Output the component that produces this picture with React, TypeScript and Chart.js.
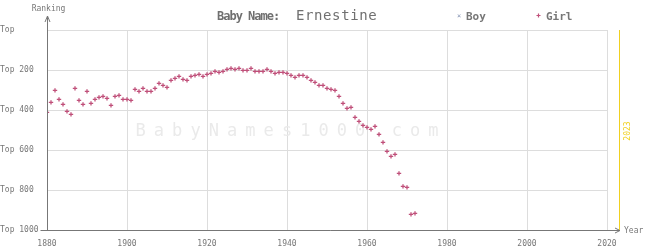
import React, { useEffect, useRef } from "react";
import { Chart, registerables } from "chart.js";

Chart.register(...registerables);

const years: number[] = [];
for (let y = 1880; y <= 1972; y++) years.push(y);

const girlRanks: number[] = [
  412, 362, 302, 347, 372, 407, 422, 292, 352, 372,
  307, 367, 347, 337, 332, 342, 377, 332, 327, 347,
  347, 352, 297, 307, 292, 307, 307, 292, 267, 277,
  287, 252, 242, 232, 247, 252, 232, 227, 222, 232,
  222, 217, 207, 212, 207, 197, 192, 197, 192, 202,
  202, 192, 207, 207, 207, 197, 207, 217, 212, 212,
  217, 227, 237, 227, 227, 237, 252, 262, 277, 277,
  292, 297, 302, 332, 367, 392, 387, 437, 457, 477,
  487, 497, 482, 522, 562, 607, 632, 622, 717, 782,
  787, 922, 917,
];

const boyRanks: number[] = [];

const xTicks: number[] = [1880, 1900, 1920, 1940, 1960, 1980, 2000, 2020];
const yTicks: number[] = [0, 200, 400, 600, 800, 1000];
const currentYear = 2023;
const nameTitle = "Ernestine";

const MONO = "'DejaVu Sans Mono', 'Liberation Mono', monospace";
const PINK = "#c0507a";
const BOYC = "#8090b0";
const AXIS = "#777777";
const GRID = "#dddddd";
const TEXT = "#777777";

const extras = {
  id: "extras",
  beforeDatasetsDraw(chart: any) {
    const ctx = chart.ctx;
    const ys = chart.scales.y;
    ctx.save();
    ctx.fillStyle = "#eaeaea";
    ctx.font = `17px ${MONO}`;
    ctx.textAlign = "center";
    ctx.textBaseline = "middle";
    const wm = "BabyNames1000.com";
    const step = 18.3;
    const cx = 287;
    const cy = ys.getPixelForValue(510);
    for (let i = 0; i < wm.length; i++) {
      ctx.fillText(wm[i], cx + (i - (wm.length - 1) / 2) * step, cy);
    }
    ctx.restore();
  },
  afterDraw(chart: any) {
    const ctx = chart.ctx;
    const xs = chart.scales.x;
    const area = chart.chartArea;
    ctx.save();
    const x0 = Math.round(area.left) + 0.5;
    const yb = Math.round(area.bottom) + 0.5;
    ctx.strokeStyle = AXIS;
    ctx.lineWidth = 1;
    ctx.beginPath();
    ctx.moveTo(x0, yb);
    ctx.lineTo(x0, 16);
    ctx.stroke();
    ctx.beginPath();
    ctx.moveTo(x0 - 2.5, 22);
    ctx.lineTo(x0, 16);
    ctx.lineTo(x0 + 2.5, 22);
    ctx.stroke();
    const xEnd = 620;
    ctx.beginPath();
    ctx.moveTo(x0 - 7, yb);
    ctx.lineTo(xEnd, yb);
    ctx.stroke();
    ctx.beginPath();
    ctx.moveTo(xEnd - 5, yb - 2.5);
    ctx.lineTo(xEnd, yb);
    ctx.lineTo(xEnd - 5, yb + 2.5);
    ctx.stroke();
    ctx.fillStyle = TEXT;
    ctx.font = `8px ${MONO}`;
    ctx.textBaseline = "middle";
    ctx.textAlign = "center";
    ctx.fillText("Ranking", x0 + 1, 9);
    ctx.textAlign = "left";
    ctx.fillText("Year", 624, yb);
    const xc = Math.round(xs.getPixelForValue(currentYear)) + 0.5;
    ctx.strokeStyle = "#f0d020";
    ctx.beginPath();
    ctx.moveTo(xc, area.top);
    ctx.lineTo(xc, yb - 0.5);
    ctx.stroke();
    ctx.save();
    ctx.translate(xc + 8, (area.top + area.bottom) / 2 + 1);
    ctx.rotate(-Math.PI / 2);
    ctx.fillStyle = "#f0d020";
    ctx.font = `8px ${MONO}`;
    ctx.textAlign = "center";
    ctx.textBaseline = "middle";
    ctx.fillText(String(currentYear), 0, 0);
    ctx.restore();
    // title
    ctx.fillStyle = "#707070";
    ctx.textBaseline = "middle";
    ctx.textAlign = "left";
    ctx.font = `bold 12px ${MONO}`;
    (ctx as any).letterSpacing = "-1px";
    ctx.fillText("Baby Name:", 217, 17);
    ctx.font = `14px ${MONO}`;
    (ctx as any).letterSpacing = "0.6px";
    ctx.fillText(nameTitle, 296, 16.5);
    (ctx as any).letterSpacing = "0px";
    // legend
    ctx.fillStyle = BOYC;
    ctx.font = `7px ${MONO}`;
    ctx.textAlign = "center";
    ctx.fillText("×", 459, 16);
    ctx.fillStyle = TEXT;
    ctx.font = `bold 11px ${MONO}`;
    ctx.textAlign = "left";
    ctx.fillText("Boy", 466, 17);
    ctx.strokeStyle = PINK;
    ctx.lineWidth = 1.2;
    ctx.beginPath();
    ctx.moveTo(536.5, 15.5);
    ctx.lineTo(540.5, 15.5);
    ctx.moveTo(538.5, 13.5);
    ctx.lineTo(538.5, 17.5);
    ctx.stroke();
    ctx.fillText("Girl", 546, 17);
    ctx.restore();
  },
};

export default function App() {
  const ref = useRef<HTMLCanvasElement>(null);
  useEffect(() => {
    document.body.style.margin = "0";
    const canvas = ref.current!;
    const chart = new Chart(canvas, {
      type: "scatter",
      data: {
        datasets: [
          {
            label: "Boy",
            data: boyRanks.map((r, i) => ({ x: years[i], y: r })),
            pointStyle: "crossRot",
            borderColor: BOYC,
            backgroundColor: BOYC,
            pointRadius: 2,
            borderWidth: 1,
          },
          {
            label: "Girl",
            data: girlRanks.map((r, i) => ({ x: years[i], y: r })),
            pointStyle: "cross",
            borderColor: PINK,
            backgroundColor: PINK,
            pointRadius: 2.2,
            borderWidth: 1.3,
          },
        ],
      },
      options: {
        responsive: false,
        animation: false,
        events: [],
        layout: { padding: { top: 30, right: 38, left: 0, bottom: 0 } },
        plugins: {
          legend: { display: false },
          tooltip: { enabled: false },
          title: { display: false },
        },
        scales: {
          x: {
            type: "linear",
            min: 1880,
            max: 2020,
            afterBuildTicks: (s: any) => {
              s.ticks = xTicks.map((v) => ({ value: v }));
            },
            afterFit: (s: any) => {
              s.height = 20;
            },
            grid: { color: GRID, drawTicks: false, lineWidth: 1 },
            border: { display: false },
            ticks: {
              padding: 9,
              color: TEXT,
              font: { family: MONO, size: 8 },
              maxRotation: 0,
              callback: (v: any) => String(v),
            },
          },
          y: {
            type: "linear",
            min: 0,
            max: 1000,
            reverse: true,
            afterBuildTicks: (s: any) => {
              s.ticks = yTicks.map((v) => ({ value: v }));
            },
            afterFit: (s: any) => {
              s.width = 47;
            },
            grid: { color: GRID, drawTicks: false, lineWidth: 1 },
            border: { display: false },
            ticks: {
              crossAlign: "far",
              padding: 0,
              color: TEXT,
              font: { family: MONO, size: 8 },
              callback: (v: any) => (v === 0 ? "Top" : "Top " + v),
            },
          },
        },
      },
      plugins: [extras],
    });
    return () => chart.destroy();
  }, []);
  return <canvas ref={ref} width={645} height={250} style={{ display: "block" }} />;
}
